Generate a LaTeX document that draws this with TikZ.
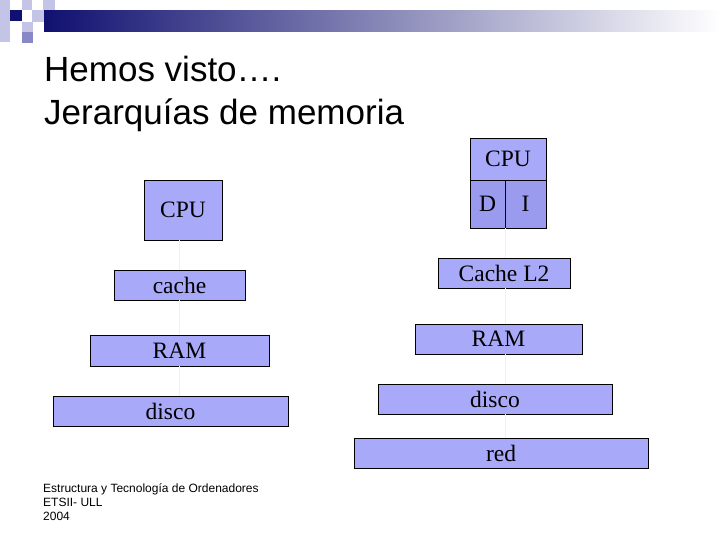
\documentclass[tikz,border=0pt]{standalone}
\usepackage{fontspec}
\setmainfont{Liberation Serif}
\newfontfamily\arial{Liberation Sans}
\definecolor{boxc}{HTML}{A9A9F9}
\definecolor{boxd}{HTML}{9A9AEE}
\definecolor{navy}{HTML}{101070}
\definecolor{lsq}{HTML}{C4C4E6}
\definecolor{msq}{HTML}{8888C8}
\begin{document}
\begin{tikzpicture}[x=1pt,y=-1pt,
  mem/.style={draw=black,fill=boxc,line width=0.6pt,inner sep=0pt,text depth=0pt,yshift=0pt,font=\fontsize{23.5}{25}\selectfont},
  link/.style={draw=gray!12,line width=0.5pt}]
\useasboundingbox (0,0) rectangle (720,540);
% decoration
\fill[lsq] (0,0) rectangle (10,10);
\fill[lsq] (22,0) rectangle (32,10);
\fill[lsq] (43,0) rectangle (55,10);
\fill[lsq] (0,10) rectangle (10,42);
\fill[lsq] (32,10) rectangle (44,22);
\fill[msq] (44,10) rectangle (55,22);
\fill[navy] (10,10) rectangle (22,21);
\fill[lsq] (22,22) rectangle (33,32);
\fill[msq] (22,32) rectangle (33,43);
\shade[left color=navy,right color=white] (44,11) rectangle (720,32);
% titles
\node[anchor=base west,inner sep=0pt,font=\arial\fontsize{35}{37}\selectfont] (t1) at (44,82) {Hemos visto….};
\node[anchor=base west,inner sep=0pt,font=\arial\fontsize{35}{37}\selectfont] (t2) at (44,125) {Jerarquías de memoria};
% left hierarchy
\node[mem,minimum width=78,minimum height=60] (lcpu) at (183,210) {CPU};
\node[mem,minimum width=131,minimum height=30] (lcache) at (179.5,285) {cache};
\node[mem,minimum width=179,minimum height=31] (lram) at (179.5,350.5) {RAM};
\node[mem,minimum width=235,minimum height=30] (ldisco) at (170.5,411) {disco};
\draw[link] (lcpu.south -| lcache.north) -- (lcache.north);
\draw[link] (lcache.south) -- (lram.north);
\draw[link] (lram.south) -- (lram.south |- ldisco.north);
% right hierarchy
\node[mem,minimum width=76,minimum height=42] (rcpu) at (508,159) {CPU};
\node[mem,fill=boxd,minimum width=35,minimum height=48] (rd) at (487.5,204) {D};
\node[mem,fill=boxd,minimum width=41,minimum height=48] (ri) at (525.5,204) {I};
\node[mem,minimum width=132,minimum height=30] (rl2) at (504,273) {Cache L2};
\node[mem,minimum width=167,minimum height=30] (rram) at (498.5,339) {RAM};
\node[mem,minimum width=234,minimum height=30] (rdisco) at (495,399) {disco};
\node[mem,minimum width=294,minimum height=30] (rred) at (501,453) {red};
\coordinate (rbot) at (505,228);
\draw[link] (rbot) -- (rbot |- rl2.north);
\draw[link] (rl2.south -| rbot) -- (rbot |- rram.north);
\draw[link] (rram.south -| rbot) -- (rbot |- rdisco.north);
\draw[link] (rdisco.south -| rbot) -- (rbot |- rred.north);
% footer
\node[anchor=north west,inner sep=0pt,align=left,font=\arial\fontsize{12}{14}\selectfont] (ft) at (43,483) {Estructura y Tecnología de Ordenadores\\ETSII- ULL\\2004};
\end{tikzpicture}
\end{document}
